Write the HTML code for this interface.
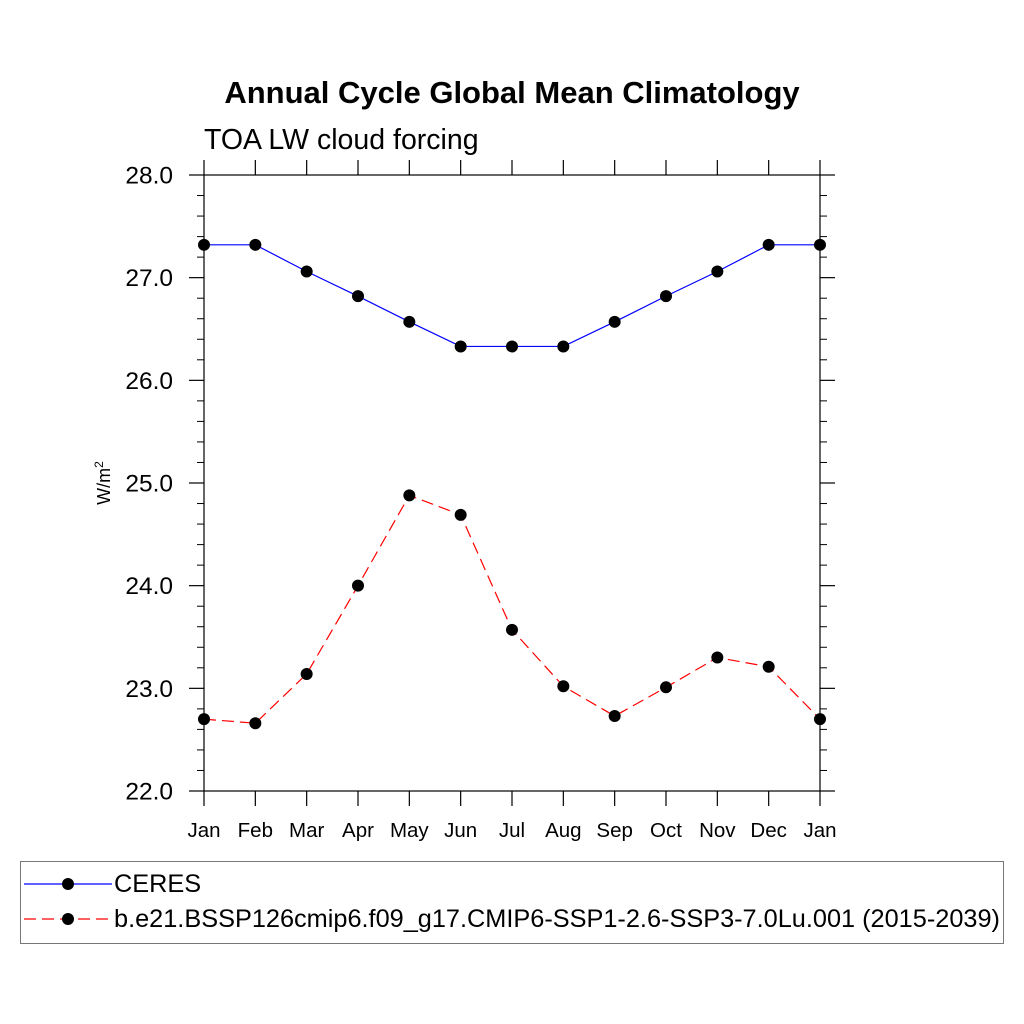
<!DOCTYPE html>
<html><head><meta charset="utf-8"><style>
body{margin:0;background:#fff}
svg{display:block;font-family:"Liberation Sans",sans-serif}
</style></head><body>
<svg id="chart" width="1024" height="1024" viewBox="0 0 1024 1024">
<text x="512" y="103" text-anchor="middle" font-size="31" font-weight="bold">Annual Cycle Global Mean Climatology</text>
<text x="204" y="149" font-size="28.5">TOA LW cloud forcing</text>
<text transform="translate(110,483) rotate(-90)" text-anchor="middle" font-size="18">W/m<tspan font-size="12" dy="-7">2</tspan></text>
<g id="axes"></g>
<g id="series"></g>
<g>
<rect x="20.5" y="861.5" width="983" height="82" fill="none" stroke="#777" stroke-width="1"/>
<line x1="24" y1="884" x2="112" y2="884" stroke="#00f" stroke-width="1.2"/>
<circle cx="68" cy="884" r="6"/>
<text x="114" y="892" font-size="25.3">CERES</text>
<line x1="24" y1="919" x2="112" y2="919" stroke="#f00" stroke-width="1.2" stroke-dasharray="12,6"/>
<circle cx="68" cy="919" r="6"/>
<text x="114" y="927" font-size="25.3">b.e21.BSSP126cmip6.f09_g17.CMIP6-SSP1-2.6-SSP3-7.0Lu.001 (2015-2039)</text>
</g>
</svg>
<script>
const months = ["Jan","Feb","Mar","Apr","May","Jun","Jul","Aug","Sep","Oct","Nov","Dec","Jan"];
const ceresValues = [27.32,27.32,27.06,26.82,26.57,26.33,26.33,26.33,26.57,26.82,27.06,27.32,27.32];
const modelValues = [22.70,22.66,23.14,24.00,24.88,24.69,23.57,23.02,22.73,23.01,23.30,23.21,22.70];
const yTicks = [22,23,24,25,26,27,28];
const yTickLabels = ["22.0","23.0","24.0","25.0","26.0","27.0","28.0"];

const NS="http://www.w3.org/2000/svg";
const L=204,R=820,T=175,B=791,yMin=22,yMax=28;
const xs=i=>L+(R-L)*i/(months.length-1);
const ys=v=>B-(v-yMin)/(yMax-yMin)*(B-T);
function mk(tag,attrs,parent,text){const e=document.createElementNS(NS,tag);for(const k in attrs)e.setAttribute(k,attrs[k]);if(text!==undefined)e.textContent=text;parent.appendChild(e);return e;}
const ax=document.getElementById('axes');
const frame=mk('rect',{x:L,y:T,width:R-L,height:B-T,fill:'none',stroke:'#000','stroke-width':1.2},ax);


months.forEach((m,i)=>{
  const x=xs(i);
  const t1=mk('line',{x1:x,y1:B,x2:x,y2:B+15,stroke:'#000','stroke-width':1.2},ax);
  
  
  const t2=mk('line',{x1:x,y1:T,x2:x,y2:T-15,stroke:'#000','stroke-width':1.2},ax);
  
  
  const lb=mk('text',{x:x,y:837,'text-anchor':'middle','font-size':20.5},ax,m);
  
  
});
yTicks.forEach((v,i)=>{
  const y=ys(v);
  const t1=mk('line',{x1:L-15,y1:y,x2:L,y2:y,stroke:'#000','stroke-width':1.2},ax);
  
  
  const t2=mk('line',{x1:R,y1:y,x2:R+15,y2:y,stroke:'#000','stroke-width':1.2},ax);
  
  
  const lb=mk('text',{x:173,y:y+8.5,'text-anchor':'end','font-size':24.5},ax,yTickLabels[i]);
  
  
  if(i<yTicks.length-1){for(let k=1;k<5;k++){const yy=ys(v+k*0.2);
    const m1=mk('line',{x1:L-7,y1:yy,x2:L,y2:yy,stroke:'#000','stroke-width':1},ax);
    
    
    const m2=mk('line',{x1:R,y1:yy,x2:R+7,y2:yy,stroke:'#000','stroke-width':1},ax);
    
    }}
});
const sg=document.getElementById('series');
function series(vals,color,dash,name){
  const pts=vals.map((v,i)=>xs(i)+','+ys(v)).join(' ');
  const pl=mk('polyline',{points:pts,fill:'none',stroke:color,'stroke-width':1.2,'stroke-dasharray':dash},sg);
  
  
  vals.forEach((v,i)=>{const c=mk('circle',{cx:xs(i),cy:ys(v),r:6,fill:'#000'},sg);
    
    });
}
series(ceresValues,'#00f','none','ceres');
series(modelValues,'#f00','12,6','model');
</script>
</body></html>
